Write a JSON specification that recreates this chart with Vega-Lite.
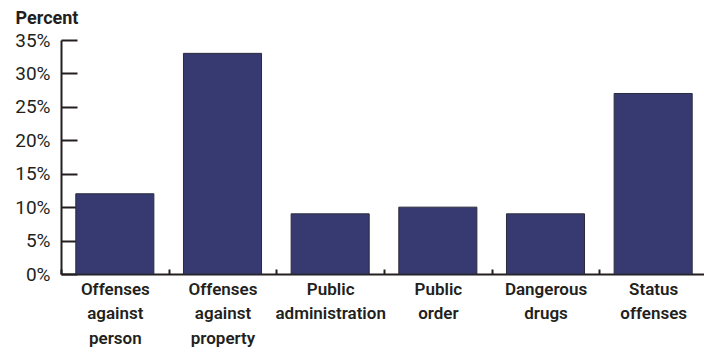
{
  "$schema": "https://vega.github.io/schema/vega-lite/v6.json",
  "autosize": "none",
  "padding": {"left": 61, "top": 40, "right": 0, "bottom": 78},
  "width": 646,
  "height": 234,
  "background": "white",
  "data": {
    "values": [
      {"category": "Offenses|against|person", "share": 0.12},
      {"category": "Offenses|against|property", "share": 0.33},
      {"category": "Public|administration", "share": 0.09},
      {"category": "Public|order", "share": 0.10},
      {"category": "Dangerous|drugs", "share": 0.09},
      {"category": "Status|offenses", "share": 0.27}
    ]
  },
  "mark": {"type": "bar", "width": {"band": 0.725}, "color": "#363a71", "stroke": "#2b2b3c", "strokeWidth": 1},
  "encoding": {
    "x": {
      "field": "category", "type": "nominal", "sort": null,
      "scale": {"paddingInner": 0, "paddingOuter": 0},
      "axis": {
        "title": null, "labelAngle": 0, "tickBand": "extent",
        "labelExpr": "datum.value ? split(datum.value, '|') : ''",
        "labelFont": "Roboto",
        "labelFontSize": 17, "labelFontWeight": 600, "labelColor": "#231f20",
        "labelLineHeight": 24.5, "labelPadding": 12,
        "tickSize": -5, "tickWidth": 2, "tickColor": "#231f20",
        "domainColor": "#231f20", "domainWidth": 2
      }
    },
    "y": {
      "field": "share", "type": "quantitative",
      "scale": {"domain": [0, 0.35], "nice": false},
      "axis": {
        "values": [0, 0.05, 0.1, 0.15, 0.2, 0.25, 0.3, 0.35],
        "format": ".0%", "grid": false,
        "labelFont": "Roboto",
        "labelFontSize": 19, "labelColor": "#231f20", "labelPadding": 27,
        "tickSize": -16, "tickWidth": 2, "tickColor": "#231f20",
        "domainColor": "#231f20", "domainWidth": 2,
        "title": "Percent", "titleAngle": 0, "titleAlign": "left", "titleBaseline": "alphabetic",
        "titleX": -46, "titleY": -17,
        "titleFont": "Roboto",
        "titleFontSize": 18, "titleFontWeight": "bold", "titleColor": "#231f20"
      }
    }
  },
  "config": {"view": {"stroke": null}}
}
